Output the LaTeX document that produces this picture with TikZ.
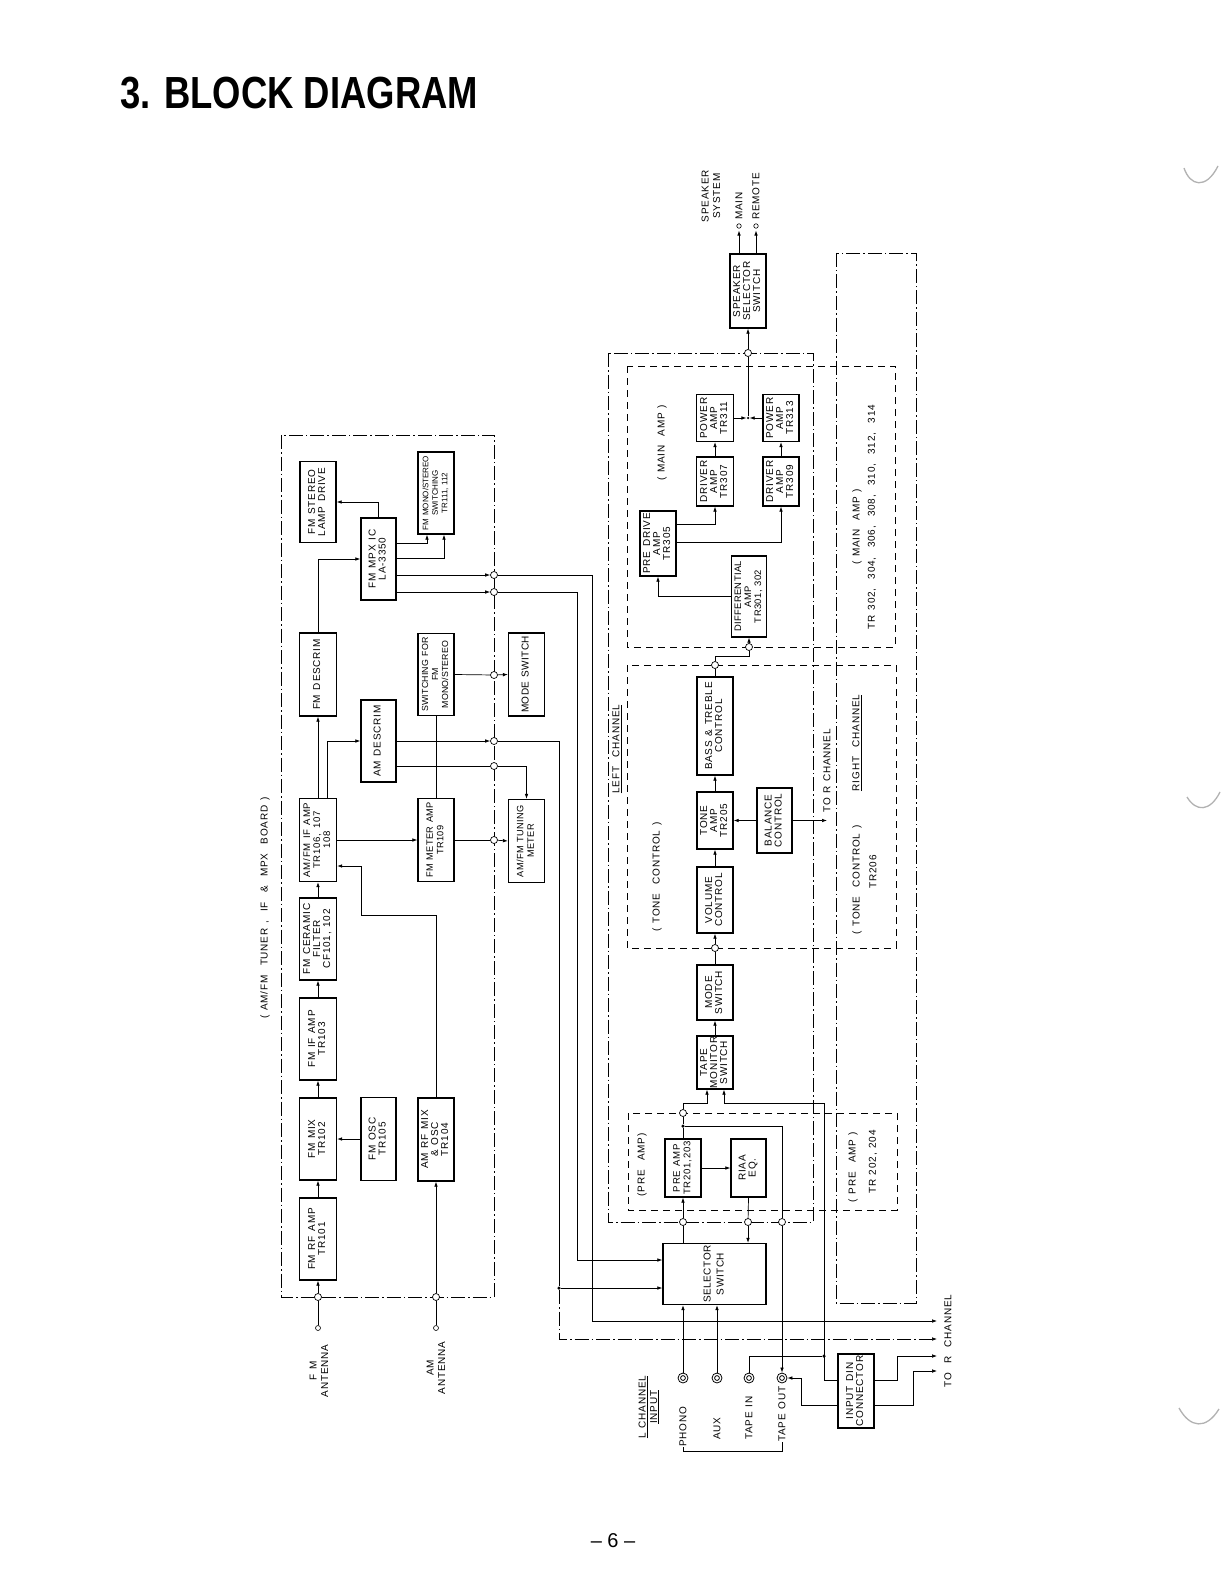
\documentclass[tikz,border=0pt]{standalone}
\usepackage{fontspec}
\setmainfont{Liberation Sans}[LetterSpace=8,WordSpace=1.3]
\newfontfamily\titlefont{Liberation Sans}
\usetikzlibrary{arrows.meta,calc}
\usetikzlibrary{positioning}

\newcommand{\vt}[1]{\rotatebox{90}{\begin{tabular}{@{}c@{}}#1\end{tabular}}}

\begin{document}
\begin{tikzpicture}[x=1pt,y=-1pt,>={Latex[length=5pt,width=3.6pt]},line width=0.7pt,
  blk/.style={draw,line width=1.3pt,inner sep=0pt,font=\fontsize{10}{10}\selectfont},
  jn/.style={circle,draw,fill=white,inner sep=0pt,minimum size=7pt,line width=0.7pt},
  dot/.style={circle,fill,inner sep=0pt,minimum size=3.5pt},
  term/.style={circle,draw,fill=white,inner sep=0pt,minimum size=5pt,line width=0.6pt},
  jack/.style={circle,draw,inner sep=0pt,minimum size=10pt,line width=0.8pt,
    path picture={\draw[line width=0.8pt] (path picture bounding box.center) circle (2.4pt);}},
  lbl/.style={inner sep=0pt,font=\fontsize{10}{11.5}\selectfont},
  board/.style={dash pattern=on 14pt off 3pt on 1.5pt off 3pt},
  sect/.style={dash pattern=on 7pt off 5pt}]
  \useasboundingbox (0,0) rectangle (1225,1594);
  \fill[white] (0,0) rectangle (1225,1594);
  \node[anchor=base west,xscale=0.81,inner sep=0pt,font=\titlefont\fontsize{45}{50}\selectfont\bfseries] (TTL) at (120,109) {3. BLOCK DIAGRAM};
  \node[inner sep=0pt,font=\titlefont\fontsize{20}{24}\selectfont] (PG) at (613,1541) {– 6 –};
  \draw[gray!60,line width=1.3pt] (1184,168) .. controls (1190,186) and (1206,190) .. (1218,166);
  \draw[gray!60,line width=1.3pt] (1187,797) .. controls (1196,812) and (1210,812) .. (1220,792);
  \draw[gray!60,line width=1.3pt] (1179,1408) .. controls (1190,1428) and (1206,1430) .. (1219,1409);

  \draw[board] (281,435) rectangle (494,1297);
  \draw[board] (608,353) rectangle (813,1222);
  \draw[board] (836,253) rectangle (916,1303);
  \draw[sect] (627,366) rectangle (895,647);
  \draw[sect] (627,665) rectangle (896,948);
  \draw[sect] (628,1113) rectangle (897,1210);

  \node[blk,minimum width=37,minimum height=82] (RF) at (318,1239) {\vt{FM RF AMP\\TR101}};
  \node[blk,minimum width=37,minimum height=82] (MIX) at (318,1139) {\vt{FM MIX\\TR102}};
  \node[blk,minimum width=37,minimum height=82] (IF) at (318,1039) {\vt{FM IF AMP\\TR103}};
  \node[blk,minimum width=37,minimum height=82] (CF) at (318,939) {\vt{FM CERAMIC\\FILTER\\CF101, 102}};
  \node[blk,minimum width=37,minimum height=83,font=\fontsize{9.6}{10}\selectfont] (IFA) at (318,840) {\vt{AM/FM IF AMP\\TR106, 107\\108}};
  \node[blk,minimum width=37,minimum height=83] (FMD) at (318,674.5) {\vt{FM DESCRIM}};
  \node[blk,minimum width=36,minimum height=81] (LMP) at (318,502) {\vt{FM STEREO\\LAMP DRIVE}};
  \node[blk,minimum width=35,minimum height=83] (OSC) at (378.5,1139) {\vt{FM OSC\\TR105}};
  \node[blk,minimum width=35,minimum height=82] (AMD) at (378.5,741) {\vt{AM DESCRIM}};
  \node[blk,minimum width=35,minimum height=82] (MPX) at (378.5,559) {\vt{FM MPX IC\\LA-3350}};
  \node[blk,minimum width=36,minimum height=83] (AMRF) at (436,1139.5) {\vt{AM RF MIX\\\& OSC\\TR104}};
  \node[blk,minimum width=36,minimum height=83,font=\fontsize{9.2}{10.5}\selectfont\addfontfeature{LetterSpace=4}] (MTR) at (436,840) {\vt{FM METER AMP\\TR109}};
  \node[blk,minimum width=36,minimum height=82,font=\fontsize{8.8}{10}\selectfont\addfontfeature{LetterSpace=2}] (SWF) at (436,674.5) {\vt{SWITCHING FOR\\FM\\MONO/STEREO}};
  \node[blk,minimum width=36,minimum height=82,font=\fontsize{8}{9.5}\selectfont\addfontfeature{LetterSpace=0}] (MST) at (436,493) {\vt{FM MONO/STEREO\\SWITCHING\\TR111, 112}};
  \node[blk,minimum width=36,minimum height=83,font=\fontsize{10}{10}\selectfont\addfontfeature{LetterSpace=4}] (MSW) at (526.5,674.5) {\vt{MODE SWITCH}};
  \node[blk,minimum width=36,minimum height=83,font=\fontsize{9.2}{10.5}\selectfont\addfontfeature{LetterSpace=4}] (TUN) at (526.5,841) {\vt{AM/FM TUNING\\METER}};

  \node[blk,minimum width=36,minimum height=74] (SPK) at (748,291) {\vt{SPEAKER\\SELECTOR\\SWITCH}};
  \node[blk,minimum width=37,minimum height=47] (P311) at (715,418) {\vt{POWER\\AMP\\TR311}};
  \node[blk,minimum width=36,minimum height=47] (P313) at (781,418) {\vt{POWER\\AMP\\TR313}};
  \node[blk,minimum width=37,minimum height=49] (D307) at (715,481.5) {\vt{DRIVER\\AMP\\TR307}};
  \node[blk,minimum width=36,minimum height=49] (D309) at (781,481.5) {\vt{DRIVER\\AMP\\TR309}};
  \node[blk,minimum width=36,minimum height=65] (PDR) at (658,543.5) {\vt{PRE DRIVE\\AMP\\TR305}};
  \node[blk,minimum width=35,minimum height=81,font=\fontsize{9.4}{10}\selectfont\addfontfeature{LetterSpace=4}] (DIF) at (749,596.5) {\vt{DIFFERENTIAL\\AMP\\TR301, 302}};
  \node[blk,minimum width=36,minimum height=98] (BT) at (715,726) {\vt{BASS \& TREBLE\\CONTROL}};
  \node[blk,minimum width=36,minimum height=57] (TA) at (715,820.5) {\vt{TONE\\AMP\\TR205}};
  \node[blk,minimum width=35,minimum height=65] (BAL) at (774.5,820.5) {\vt{BALANCE\\CONTROL}};
  \node[blk,minimum width=36,minimum height=66] (VOL) at (715,900) {\vt{VOLUME\\CONTROL}};
  \node[blk,minimum width=36,minimum height=55] (MOD) at (715,992.5) {\vt{MODE\\SWITCH}};
  \node[blk,minimum width=36,minimum height=53] (TM) at (715,1062.5) {\vt{TAPE\\MONITOR\\SWITCH}};
  \node[blk,minimum width=36,minimum height=58,font=\fontsize{9.6}{10.5}\selectfont] (PRE) at (683,1168) {\vt{PRE AMP\\TR201,203}};
  \node[blk,minimum width=35,minimum height=58] (EQ) at (748.5,1168) {\vt{RIAA\\EQ.}};
  \node[blk,minimum width=103,minimum height=61,font=\fontsize{10}{13}\selectfont\addfontfeature{LetterSpace=6}] (SEL) at (714.5,1274) {\vt{SELECTOR\\SWITCH}};
  \node[blk,minimum width=36,minimum height=74] (DIN) at (856,1391) {\vt{INPUT DIN\\CONNECTOR}};

  \node[jack] (PH) at (683,1378) {};
  \node[jack] (AUX) at (717,1378) {};
  \node[jack] (TI) at (749,1378) {};
  \node[jack] (TO) at (782,1378) {};

  \node[jn] (J1) at (494,575) {};
  \node[jn] (J2) at (494,592) {};
  \node[jn] (J3) at (494,675) {};
  \node[jn] (J4) at (494,741) {};
  \node[jn] (J5) at (494,766) {};
  \node[jn] (J6) at (494,840) {};
  \node[jn] (JFM) at (318,1297) {};
  \node[jn] (JAM) at (436,1297) {};
  \node[jn] (JS) at (748,353) {};
  \node[jn] (JD) at (749,647) {};
  \node[jn] (JB) at (715,665) {};
  \node[jn] (JV) at (715,948) {};
  \node[jn] (JT) at (683,1113) {};
  \node[jn] (JP) at (683,1222) {};
  \node[jn] (JE) at (748,1222) {};
  \node[jn] (JO) at (782,1222) {};
  \node[term] (AFM) at (318,1328) {};
  \node[term] (AAM) at (436,1328) {};
  \node[term,minimum size=4.5pt] (OM) at (739,226) {};
  \node[term,minimum size=4.5pt] (OR) at (756,226) {};
  \node[dot,minimum size=2.5pt] (JX) at (748,418) {};
  \node[dot] (DP) at (683,1126) {};
  \node[dot] (DS) at (559,1288) {};
  \node[dot] (DT) at (824,1356) {};
  \coordinate (R1) at (937,1321);
  \coordinate (R2) at (937,1339);
  \coordinate (R3) at (937,1356);
  \coordinate (R4) at (937,1371);
  \coordinate (RC) at (827,820.5);

  \node[lbl] (TB) at (265,908) {\rotatebox{90}{( AM/FM \ TUNER , \ IF \ \& \ MPX \ BOARD )}};
  \node[lbl] (FMA) at (320,1371) {\vt{F M\\ANTENNA}};
  \node[lbl] (AMA) at (437,1368) {\vt{AM\\ANTENNA}};
  \node[lbl] (LCH) at (617,749) {\rotatebox{90}{\underline{LEFT \ CHANNEL}}};
  \node[lbl] (MAL) at (662,443) {\rotatebox{90}{( MAIN \ AMP )}};
  \node[lbl] (TCL) at (657,877) {\rotatebox{90}{( TONE \ CONTROL )}};
  \node[lbl] (PAL) at (642,1165) {\rotatebox{90}{(PRE \ AMP)}};
  \node[lbl] (MAR) at (857,527) {\rotatebox{90}{( MAIN \ AMP )}};
  \node[lbl] (TRR) at (872,517) {\rotatebox{90}{TR 302, \ 304, \ 306, \ 308, \ 310, \ 312, \ 314}};
  \node[lbl] (RCH) at (857,743) {\rotatebox{90}{\underline{RIGHT \ CHANNEL}}};
  \node[lbl] (TCR) at (857,880) {\rotatebox{90}{( TONE \ CONTROL )}};
  \node[lbl] (T206) at (873,872) {\rotatebox{90}{TR206}};
  \node[lbl] (PAR) at (853,1167) {\rotatebox{90}{( PRE \ AMP )}};
  \node[lbl] (T202) at (873,1162) {\rotatebox{90}{TR 202, 204}};
  \node[lbl,anchor=south] (TRC) at (827,813) {\rotatebox{90}{TO R CHANNEL}};
  \node[lbl] (TRC2) at (948,1341) {\rotatebox{90}{TO \ R \ CHANNEL}};
  \node[lbl] (SPS) at (712,196) {\vt{SPEAKER\\SYSTEM}};
  \node[lbl,anchor=south] (MN) at (739,220) {\rotatebox{90}{MAIN}};
  \node[lbl,anchor=south] (RM) at (756,220) {\rotatebox{90}{REMOTE}};
  \node[lbl] (LIN) at (649,1407) {\vt{\underline{L CHANNEL}\\\underline{INPUT}}};
  \node[lbl,anchor=south] (TPH) at (683,1447) {\rotatebox{90}{PHONO}};
  \node[lbl,anchor=south] (TAX) at (717,1440) {\rotatebox{90}{AUX}};
  \node[lbl,anchor=south] (TTI) at (749,1440) {\rotatebox{90}{TAPE IN}};
  \node[lbl,anchor=south] (TTO) at (782,1442) {\rotatebox{90}{TAPE OUT}};
  \draw (TPH.south) -- (683,1451) -- (782,1451) -- (TTO.south);

  \draw (AFM) -- (JFM);
  \draw[->] (JFM) -- (RF.south);
  \draw (AAM) -- (JAM);
  \draw[->] (JAM) -- (AMRF.south);
  \draw[->] (RF.north) -- (MIX.south);
  \draw[->] (MIX.north) -- (IF.south);
  \draw[->] (IF.north) -- (CF.south);
  \draw[->] (CF.north) -- (IFA.south);
  \draw[->] (OSC.west) -- (MIX.east);
  \draw[->] (AMRF.north) |- (361,915) |- ($(IFA.east)+(0,26)$);
  \draw[->] (IFA.north) -- (FMD.south);
  \draw[->] ($(IFA.north)+(9,0)$) |- (AMD.west);
  \draw[->] (IFA.east) -- (MTR.west);
  \draw (SWF.south) -- (MTR.north);
  \draw (MTR.east) -- (J6);
  \draw[->] (J6) -- (TUN.west);
  \draw[->] (FMD.north) |- (MPX.west);
  \draw[->] (MPX.north) |- (LMP.east);
  \draw[->] ($(MPX.east)+(0,-16)$) -| ($(MST.south)+(-9,0)$);
  \draw[->] ($(MPX.east)+(0,-1)$) -| ($(MST.south)+(8,0)$);
  \draw[->] ($(MPX.east)+(0,16)$) -- (J1);
  \draw[->] ($(MPX.east)+(0,33)$) -- (J2);
  \draw (SWF.east) -- (J3);
  \draw[->] (J3) -- (MSW.west);
  \draw[->] (AMD.east) -- (J4);
  \draw ($(AMD.east)+(0,25)$) -- (J5);
  \draw[->] (J5) -| (TUN.north);
  \draw[->] (J1) -| (592,1321) -- (R1);
  \draw[->] (J2) -| (577,1260) -- ($(SEL.west)+(0,-14)$);
  \draw (J4) -| (DS);
  \draw[->] (DS) -- ($(SEL.west)+(0,14)$);
  \draw[board] (DS) |- (559,1339) -- ($(R2)+(-6,0)$);
  \draw[->] ($(R2)+(-6,0)$) -- (R2);

  \draw[->] (D307.north) -- (P311.south);
  \draw[->] (D309.north) -- (P313.south);
  \draw[->] ($(PDR.east)+(0,-19.5)$) -| (D307.south);
  \draw[->] ($(PDR.east)+(0,-1.5)$) -| (D309.south);
  \draw[->] (DIF.west) -| (PDR.south);
  \draw[->] (P311.east) -- (JX);
  \draw[->] (P313.west) -- (JX);
  \draw (JX) -- (JS);
  \draw[->] (JS) -- (SPK.south);
  \draw[->,shorten >=2pt] ($(SPK.north)+(-9,0)$) -- (OM);
  \draw[->,shorten >=2pt] ($(SPK.north)+(8,0)$) -- (OR);

  \draw[->] (BAL.west) -- (TA.east);
  \draw[->] (BAL.east) -- (RC);
  \draw[->] (VOL.north) -- (TA.south);
  \draw[->] (TA.north) -- (BT.south);
  \draw (BT.north) -- (JB);
  \draw (JB) |- ($(JD)+(0,9)$) -- (JD);
  \draw[->] (JD) -- (DIF.south);
  \draw[->] (JV) -- (VOL.south);
  \draw (MOD.north) -- (JV);
  \draw[->] (TM.north) -- (MOD.south);
  \draw[->] (JT) |- ($(TM.south)+(-8,14)$) -- ($(TM.south)+(-8,0)$);
  \draw[->] ($(DIN.west)+(0,-11)$) -| (824,1103) -| ($(TM.south)+(9,0)$);
  \draw (TI.north) |- (DT);

  \draw[->] (PRE.east) -- (EQ.west);
  \draw (SEL.north -| JP) -- (JP);
  \draw[->] (JP) -- (PRE.south);
  \draw (PRE.north) -- (DP) -- (JT);
  \draw (DP) -| (JO);
  \draw (EQ.south) -- (JE);
  \draw[->] (JE) -- (SEL.north -| JE);
  \draw[->] (JO) -- (TO.north);
  \draw[->] (PH.north) -- (SEL.south -| PH);
  \draw[->] (AUX.north) -- (SEL.south -| AUX);
  \draw[->] ($(DIN.west)+(0,14)$) -| (801,1378) -- (TO.east);
  \draw[->] ($(DIN.east)+(0,-11)$) -| (897,1356) -- (R3);
  \draw[->] ($(DIN.east)+(0,14)$) -| (913,1371) -- (R4);
\end{tikzpicture}
\end{document}
